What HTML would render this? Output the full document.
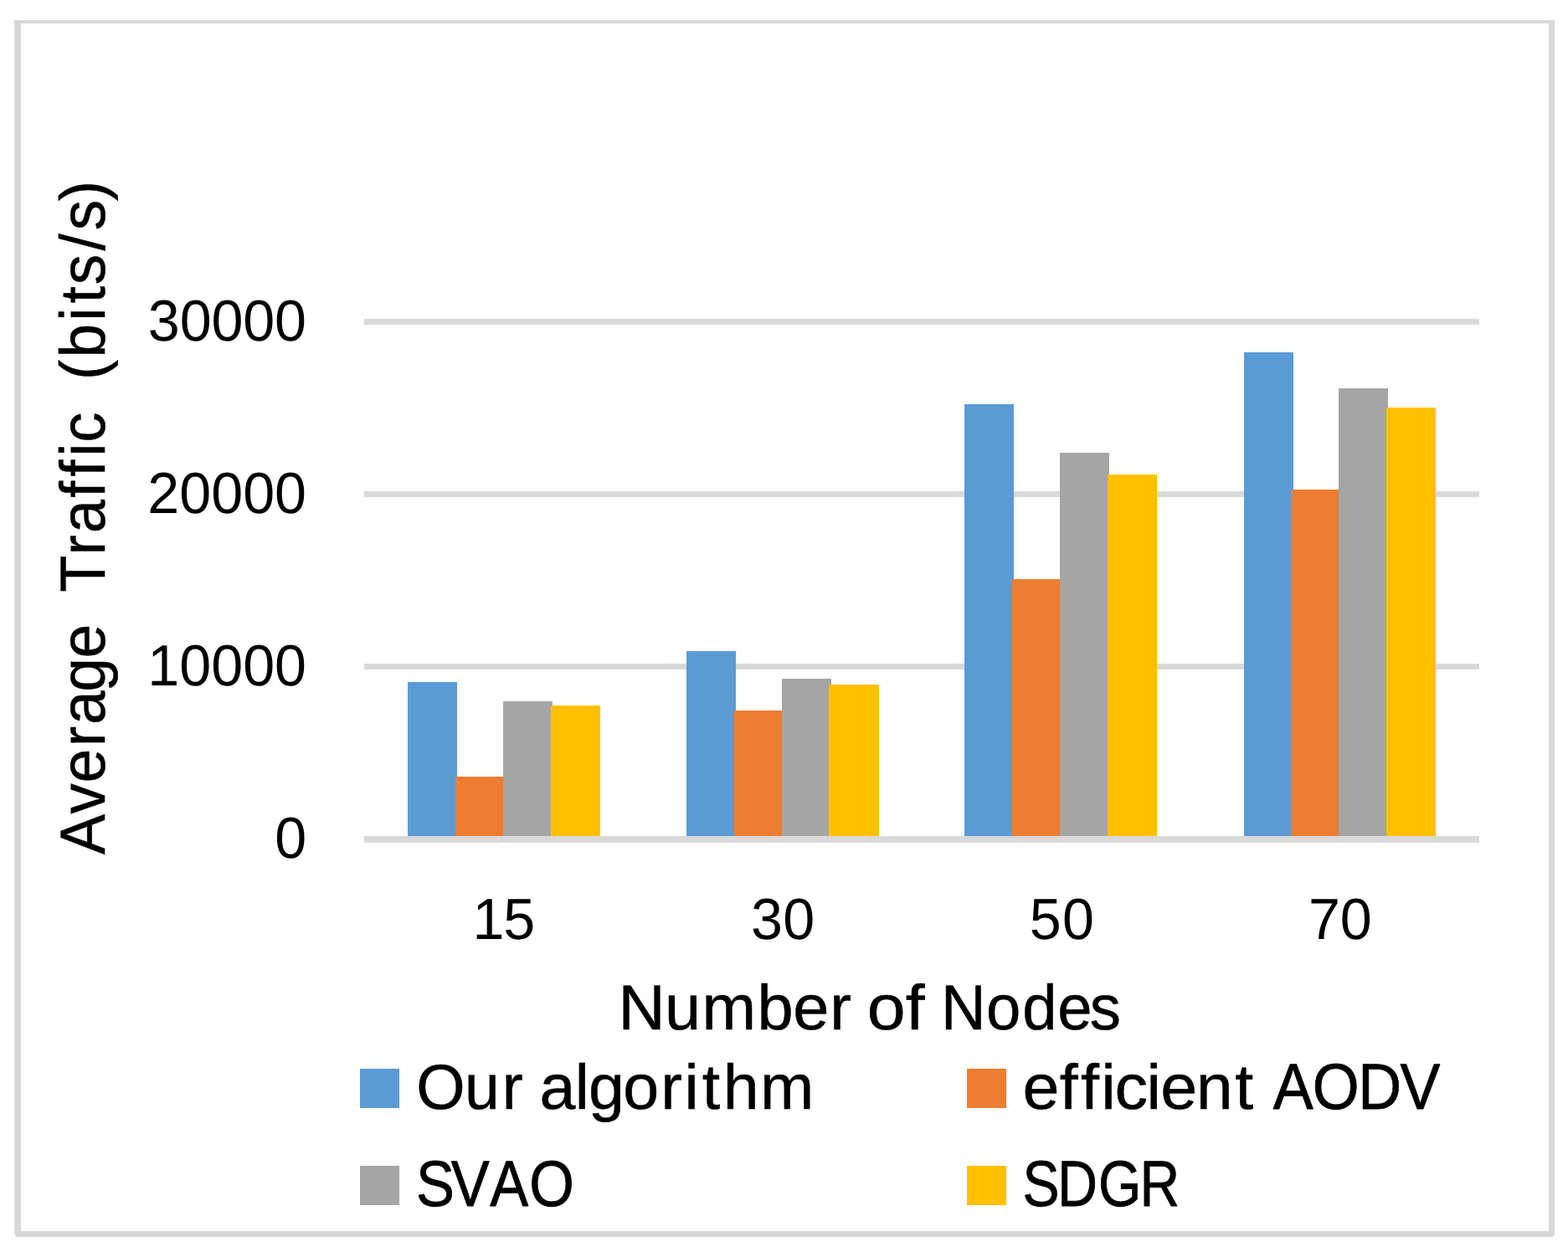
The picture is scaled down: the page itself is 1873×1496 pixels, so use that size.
<!DOCTYPE html>
<html lang="en">
<head>
<meta charset="utf-8">
<title>Average Traffic (bits/s) by Number of Nodes</title>
<style>
  html, body { margin: 0; padding: 0; background: #ffffff; }
  body { width: 1873px; height: 1496px; overflow: hidden; }
  svg.chart { display: block; width: 1873px; height: 1496px; }
  svg.chart text {
    font-family: "Liberation Sans", sans-serif;
    font-weight: 400; font-style: normal;
    font-kerning: none; font-variant-ligatures: none;
    text-rendering: geometricPrecision;
    fill: #000000; white-space: pre;
  }
  /* hairline outlines bring Liberation Sans up to the stroke weight of the original face */
  svg.chart text.o5 { stroke: #000000; stroke-width: 0.5px; stroke-linejoin: round; }
  svg.chart text.o8 { stroke: #000000; stroke-width: 0.8px; stroke-linejoin: round; }
  svg.chart rect, svg.chart path { shape-rendering: crispEdges; }
</style>
</head>
<body>
<svg class="chart" width="1873" height="1496" viewBox="0 0 1873 1496" role="img" aria-labelledby="chart-title chart-desc">
  <title id="chart-title">Average Traffic (bits/s) by Number of Nodes</title>
  <desc id="chart-desc">Clustered bar chart comparing Our algorithm, efficient AODV, SVAO and SDGR for 15, 30, 50 and 70 nodes.</desc>
  <rect x="0" y="0" width="1873" height="1496" fill="#ffffff"/>

  <!-- chart area border -->
  <g id="chart-border">
    <path fill="#D9D9D9" fill-rule="evenodd" d="M17 24H1857V1476H1856V1477H1855V1478H19V1477H18V1475H17Z M25 28V1471H1850V28Z"/>
  </g>
  <!-- horizontal gridlines -->
  <g id="gridlines">
    <rect x="435" y="381" width="1332" height="7" fill="#D9D9D9"/>
    <rect x="435" y="587" width="1332" height="7" fill="#D9D9D9"/>
    <rect x="435" y="793" width="1332" height="7" fill="#D9D9D9"/>
  </g>
  <!-- data series -->
  <g id="plot-bars">
    <g class="category" id="nodes-15">
      <rect x="487" y="815" width="59" height="188" fill="#5B9BD5"/>
      <rect x="544" y="928" width="59" height="75" fill="#ED7D31"/>
      <rect x="601" y="838" width="59" height="165" fill="#A5A5A5"/>
      <rect x="658" y="843" width="59" height="160" fill="#FFC000"/>
    </g>
    <g class="category" id="nodes-30">
      <rect x="820" y="778" width="59" height="225" fill="#5B9BD5"/>
      <rect x="877" y="849" width="59" height="154" fill="#ED7D31"/>
      <rect x="934" y="811" width="59" height="192" fill="#A5A5A5"/>
      <rect x="990" y="818" width="60" height="185" fill="#FFC000"/>
    </g>
    <g class="category" id="nodes-50">
      <rect x="1152" y="483" width="59" height="520" fill="#5B9BD5"/>
      <rect x="1209" y="692" width="59" height="311" fill="#ED7D31"/>
      <rect x="1266" y="541" width="59" height="462" fill="#A5A5A5"/>
      <rect x="1323" y="567" width="59" height="436" fill="#FFC000"/>
    </g>
    <g class="category" id="nodes-70">
      <rect x="1486" y="421" width="59" height="582" fill="#5B9BD5"/>
      <rect x="1542" y="585" width="59" height="418" fill="#ED7D31"/>
      <rect x="1599" y="464" width="59" height="539" fill="#A5A5A5"/>
      <rect x="1656" y="487" width="59" height="516" fill="#FFC000"/>
    </g>
  </g>
  <!-- category axis line -->
  <g id="x-axis-line">
    <rect x="435" y="999" width="1332" height="8" fill="#D9D9D9"/>
  </g>
  <!-- value axis labels -->
  <g id="y-axis-labels">
    <text transform="translate(176.83 406.9) scale(0.985 1)" font-size="69.3" x="0 38.4 76.79 115.19 153.58" y="0">30000</text>
    <text transform="translate(176.25 612.9) scale(0.985 1)" font-size="69.3" x="0 38.54 77.09 115.63 154.18" y="0">20000</text>
    <text transform="translate(176.3 818.9) scale(0.985 1)" font-size="69.3" x="0 38.53 77.06 115.6 154.13" y="0">10000</text>
    <text transform="translate(328.27 1024.9) scale(0.985 1)" font-size="69.3" x="0" y="0">0</text>
  </g>
  <!-- category axis labels -->
  <g id="x-axis-labels">
    <text transform="translate(564.54 1122.2) scale(0.985 1)" font-size="69.3" x="0 37.25" y="0">15</text>
    <text transform="translate(896.9 1122.2) scale(0.985 1)" font-size="69.3" x="0 39.04" y="0">30</text>
    <text transform="translate(1229.85 1122.2) scale(0.985 1)" font-size="69.3" x="0 39.83" y="0">50</text>
    <text transform="translate(1562.91 1122.2) scale(0.985 1)" font-size="69.3" x="0 38.49" y="0">70</text>
  </g>
  <!-- axis titles -->
  <g id="x-axis-title">
    <text class="o5" transform="translate(738.56 1230) scale(1.0205 1)" font-size="76" x="0 54.26 97.93 162.7 204.58 247.73" y="0">Number</text>
    <text class="o5" transform="translate(1035.66 1230) scale(1.0859 1)" font-size="76" x="0 42.48" y="0">of</text>
    <text class="o5" transform="translate(1123.94 1230) scale(0.9774 1)" font-size="76" x="0 55.44 99.62 142.56 181.96" y="0">Nodes</text>
  </g>
  <g id="y-axis-title">
    <text class="o5" transform="translate(125 1021.32) rotate(-90) scale(0.9561 1)" font-size="76" x="0 51.01 90.07 135.22 162.68 203.89 245.89" y="0">Average</text>
    <text class="o5" transform="translate(125 707.56) rotate(-90) scale(0.9439 1)" font-size="76" x="0 46.99 74.76 119.51 146.18 171.64 189.7" y="0">Traffic</text>
    <text class="o5" transform="translate(125 453.98) rotate(-90) scale(0.9583 1)" font-size="76" x="0 27.59 73.16 95.62 118.78 161.08 186.47 223.06" y="0">(bits/s)</text>
  </g>
  <!-- legend -->
  <g id="legend">
    <g class="legend-entry">
      <rect x="430" y="1277" width="47" height="47" fill="#5B9BD5"/>
      <text class="o5" transform="translate(497.18 1325) scale(0.9875 1)" font-size="76" x="0 58.52 103.87" y="0">Our</text>
      <text class="o5" transform="translate(644.56 1325) scale(1.0151 1)" font-size="76" x="0 41.56 57.53 98.29 142.5 170.31 191.25 215.87 259.48" y="0">algorithm</text>
    </g>
    <g class="legend-entry">
      <rect x="1155" y="1277" width="47" height="47" fill="#ED7D31"/>
      <text class="o5" transform="translate(1221.47 1325) scale(1.0413 1)" font-size="76" x="0 42.46 66.75 90.13 105.59 142.05 158.36 199.06 243.82" y="0">efficient</text>
      <text class="o8" transform="translate(1520.77 1325) scale(0.9271 1)" font-size="77.5" x="0 50.68 109.34 163.78" y="0">AODV</text>
    </g>
    <g class="legend-entry">
      <rect x="430" y="1393" width="47" height="47" fill="#A5A5A5"/>
      <text class="o8" transform="translate(496.95 1441) scale(0.8891 1)" font-size="77.5" x="0 47.01 99.46 152.06" y="0">SVAO</text>
    </g>
    <g class="legend-entry">
      <rect x="1155" y="1393" width="47" height="47" fill="#FFC000"/>
      <text class="o8" transform="translate(1221.41 1441) scale(0.852 1)" font-size="77.5" x="0 49.1 106.35 164.35" y="0">SDGR</text>
    </g>
  </g>
</svg>
</body>
</html>
